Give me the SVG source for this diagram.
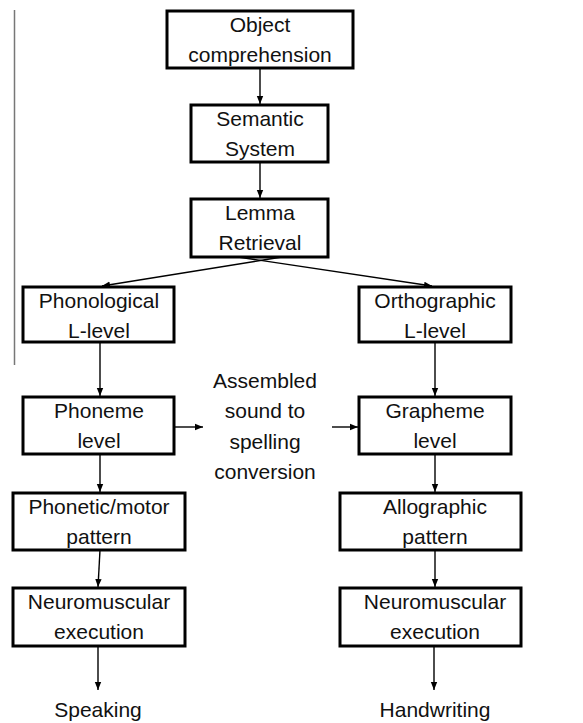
<svg xmlns="http://www.w3.org/2000/svg" width="583" height="723" viewBox="0 0 583 723">
<defs>
<style>
.box{fill:#fff;stroke:#000;stroke-width:3}
.t{font-family:"Liberation Sans",Arial,sans-serif;font-size:21px;fill:#111;text-anchor:middle}
.c{stroke:#000;stroke-width:1.4;fill:none}
</style>
<marker id="ah" viewBox="0 0 10 10" refX="10" refY="5" markerWidth="8" markerHeight="8" markerUnits="userSpaceOnUse" orient="auto">
<path d="M0,1 L10,5 L0,9 Z" fill="#000"/>
</marker>
</defs>
<rect width="583" height="723" fill="#fff"/>
<line x1="14.5" y1="10" x2="14.5" y2="365" stroke="#777" stroke-width="1.5"/>
<g id="connectors">
<line class="c" x1="260" y1="68" x2="260" y2="104" marker-end="url(#ah)"/>
<line class="c" x1="260" y1="162" x2="260" y2="198" marker-end="url(#ah)"/>
<line class="c" x1="282" y1="257" x2="102" y2="286" marker-end="url(#ah)"/>
<line class="c" x1="238" y1="257" x2="432" y2="286" marker-end="url(#ah)"/>
<line class="c" x1="100" y1="342" x2="100" y2="396" marker-end="url(#ah)"/>
<line class="c" x1="435" y1="342" x2="435" y2="396" marker-end="url(#ah)"/>
<line class="c" x1="174" y1="427" x2="203" y2="427" marker-end="url(#ah)"/>
<line class="c" x1="332" y1="427" x2="358" y2="427" marker-end="url(#ah)"/>
<line class="c" x1="100" y1="454" x2="100" y2="492" marker-end="url(#ah)"/>
<line class="c" x1="435" y1="454" x2="435" y2="492" marker-end="url(#ah)"/>
<line class="c" x1="100" y1="550" x2="98" y2="587" marker-end="url(#ah)"/>
<line class="c" x1="435" y1="550" x2="435" y2="587" marker-end="url(#ah)"/>
<line class="c" x1="98" y1="646" x2="98" y2="690" marker-end="url(#ah)"/>
<line class="c" x1="434" y1="646" x2="434" y2="690" marker-end="url(#ah)"/>
</g>
<g id="object">
<rect class="box" x="167" y="11" width="186" height="57"/>
<text class="t" x="260" y="32">Object</text>
<text class="t" x="260" y="62">comprehension</text>
</g>
<g id="semantic">
<rect class="box" x="191" y="105" width="137" height="57"/>
<text class="t" x="260" y="126">Semantic</text>
<text class="t" x="260" y="156">System</text>
</g>
<g id="lemma">
<rect class="box" x="191" y="199" width="137" height="58"/>
<text class="t" x="260" y="220">Lemma</text>
<text class="t" x="260" y="250">Retrieval</text>
</g>
<g id="phonological">
<rect class="box" x="23" y="287" width="151" height="55"/>
<text class="t" x="99" y="308">Phonological</text>
<text class="t" x="99" y="338">L-level</text>
</g>
<g id="orthographic">
<rect class="box" x="359" y="287" width="152" height="55"/>
<text class="t" x="435" y="308">Orthographic</text>
<text class="t" x="435" y="338">L-level</text>
</g>
<g id="phoneme">
<rect class="box" x="23" y="397" width="151" height="57"/>
<text class="t" x="99" y="418">Phoneme</text>
<text class="t" x="99" y="448">level</text>
</g>
<g id="grapheme">
<rect class="box" x="359" y="397" width="152" height="57"/>
<text class="t" x="435" y="418">Grapheme</text>
<text class="t" x="435" y="448">level</text>
</g>
<g id="assembled">
<text class="t" x="265" y="388">Assembled</text>
<text class="t" x="265" y="418">sound to</text>
<text class="t" x="265" y="449">spelling</text>
<text class="t" x="265" y="479">conversion</text>
</g>
<g id="phonetic">
<rect class="box" x="13" y="493" width="172" height="57"/>
<text class="t" x="99" y="514">Phonetic/motor</text>
<text class="t" x="99" y="544">pattern</text>
</g>
<g id="allographic">
<rect class="box" x="340" y="493" width="181" height="57"/>
<text class="t" x="435" y="514">Allographic</text>
<text class="t" x="435" y="544">pattern</text>
</g>
<g id="neuro-left">
<rect class="box" x="13" y="588" width="172" height="58"/>
<text class="t" x="99" y="609">Neuromuscular</text>
<text class="t" x="99" y="639">execution</text>
</g>
<g id="neuro-right">
<rect class="box" x="340" y="588" width="181" height="58"/>
<text class="t" x="435" y="609">Neuromuscular</text>
<text class="t" x="435" y="639">execution</text>
</g>
<g id="speaking">
<text class="t" x="98" y="717">Speaking</text>
</g>
<g id="handwriting">
<text class="t" x="435" y="717">Handwriting</text>
</g>
</svg>
